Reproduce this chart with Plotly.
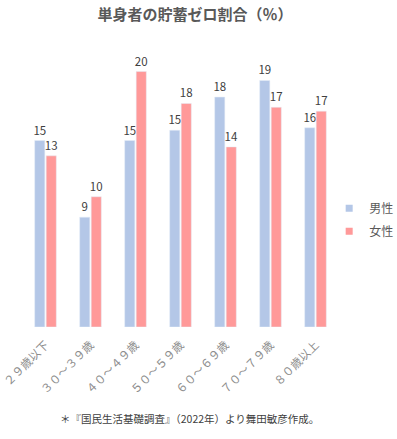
import plotly.graph_objects as go

categories = ["２９歳以下", "３０～３９歳", "４０～４９歳", "５０～５９歳", "６０～６９歳", "７０～７９歳", "８０歳以上"]
male = [14.6, 8.6, 14.6, 15.4, 18.0, 19.3, 15.6]
female = [13.4, 10.2, 20.0, 17.5, 14.1, 17.2, 16.9]
series_names = ["男性", "女性"]
title_text = "単身者の貯蓄ゼロ割合（％）"
note_text = "＊『国民生活基礎調査』（2022年）より舞田敏彦作成。"

font_family = "Noto Sans CJK JP, Noto Sans, sans-serif"
colors = ["#B4C7E7", "#FF9999"]

fig = go.Figure()
for vals, name, color in zip([male, female], series_names, colors):
    fig.add_trace(go.Bar(
        x=categories, y=vals, name=name, showlegend=False,
        marker=dict(color=color),
        texttemplate="%{y:.0f}", textposition="outside",
        constraintext="none",
        textfont=dict(color="#404040", size=11.5), cliponaxis=False,
    ))
# legend entries with small square keys
for name, color in zip(series_names, colors):
    fig.add_trace(go.Scatter(
        x=[None], y=[None], mode="markers", name=name, legendgroup=name,
        marker=dict(symbol="square", size=7, color=color),
    ))

fig.update_layout(
    width=397, height=439,
    margin=dict(l=23, r=59, t=46, b=112, autoexpand=False),
    paper_bgcolor="white", plot_bgcolor="white",
    font=dict(family=font_family, color="#595959"),
    barmode="group", bargap=0.49, bargroupgap=0.12,
    title=dict(text="<b>" + title_text + "</b>", x=0.491, xanchor="center",
               y=0.966, yanchor="middle",
               font=dict(size=15, color="#595959")),
    showlegend=True,
    legend=dict(x=0.972, xanchor="left", y=0.382, yanchor="middle",
                font=dict(size=12, color="#595959"), traceorder="grouped",
                itemwidth=30, tracegroupgap=4, bgcolor="rgba(0,0,0,0)"),
    xaxis=dict(tickangle=-45, tickfont=dict(size=11.5, color="#8C8C8C"),
               showline=False, ticks="", showgrid=False, automargin=False,
               ticklabelstandoff=8),
    yaxis=dict(range=[0, 22], visible=False, showgrid=False, automargin=False),
    annotations=[dict(text=note_text, x=0.527, xref="paper", xanchor="center",
                      y=-0.326, yref="paper", yanchor="middle", showarrow=False,
                      font=dict(size=10.5, color="#404040"))],
)

fig.write_html("out.html", config={"displayModeBar": False},
               post_script="document.body.style.margin='0';document.body.style.padding='0';")
